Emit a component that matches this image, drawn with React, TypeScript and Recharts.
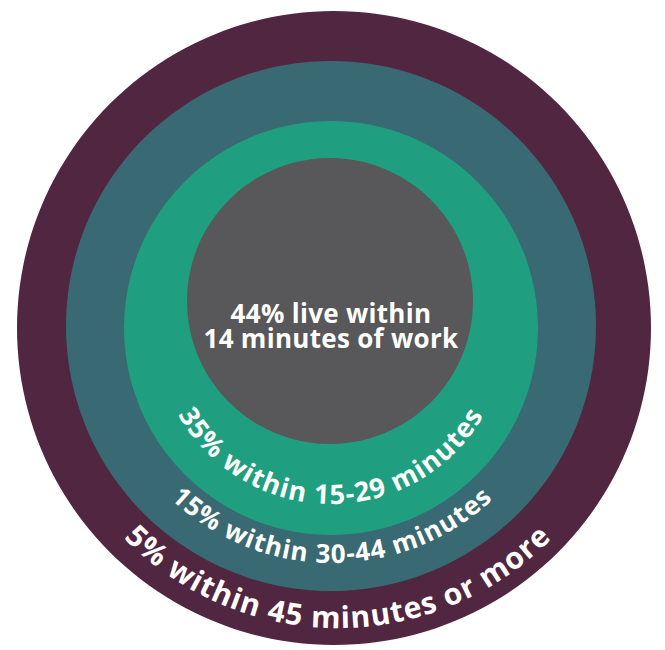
import { PieChart, Pie, Cell } from "recharts";

// share of workers by commute time, innermost band first
const shares = [44, 35, 15, 5];
const bands = ["14 minutes of work", "15-29 minutes", "30-44 minutes", "45 minutes or more"];
const colors = ["#58585a", "#1f9f7f", "#396972", "#512641"];

// circle layout, innermost first
const rings = [
  { cx: 330, cy: 301, r: 143 },
  { cx: 331, cy: 328, r: 207 },
  { cx: 331, cy: 326, r: 265 },
  { cx: 334, cy: 328, r: 317 },
];

// curved label placement for the outer three bands
const arcs = [
  { cx: 331, r: 176, size: 27, spacing: 1.1 },
  { cx: 332, r: 235, size: 26, spacing: 1.0 },
  { cx: 338, r: 300, size: 30, spacing: 1.0 },
];
const ARC_CY = 328;
const FONT = "'Open Sans', 'DejaVu Sans', sans-serif";

function Labels() {
  return (
    <svg
      width={665}
      height={650}
      style={{ position: "absolute", left: 0, top: 0, pointerEvents: "none" }}
    >
      <defs>
        {arcs.map((a, i) => (
          <path
            key={i}
            id={`arc-${i}`}
            d={`M ${a.cx - a.r} ${ARC_CY} A ${a.r} ${a.r} 0 0 0 ${a.cx + a.r} ${ARC_CY}`}
            fill="none"
          />
        ))}
      </defs>
      <text
        x={331}
        textAnchor="middle"
        fill="#fff"
        fontFamily={FONT}
        fontWeight={700}
        fontSize={26}
        letterSpacing={0.3}
      >
        <tspan x={331} y={323}>{`${shares[0]}% live within`}</tspan>
        <tspan x={331} y={348}>{bands[0]}</tspan>
      </text>
      {arcs.map((a, i) => (
        <text
          key={i}
          fill="#fff"
          fontFamily={FONT}
          fontWeight={700}
          fontSize={a.size}
          letterSpacing={a.spacing}
        >
          <textPath href={`#arc-${i}`} startOffset="50%" textAnchor="middle">
            {`${shares[i + 1]}% within ${bands[i + 1]}`}
          </textPath>
        </text>
      ))}
    </svg>
  );
}

export default function App() {
  const order = [3, 2, 1, 0];
  return (
    <div style={{ width: 665, height: 650, position: "relative" }}>
      <style>{"body{margin:0}"}</style>
      <PieChart width={665} height={650} margin={{ top: 0, right: 0, bottom: 0, left: 0 }}>
        {order.map((i) => (
          <Pie
            key={i}
            data={[{ name: bands[i], value: shares[i] }]}
            dataKey="value"
            cx={rings[i].cx}
            cy={rings[i].cy}
            innerRadius={0}
            outerRadius={rings[i].r}
            startAngle={90}
            endAngle={450}
            stroke="none"
            isAnimationActive={false}
          >
            <Cell fill={colors[i]} />
          </Pie>
        ))}
      </PieChart>
      <Labels />
    </div>
  );
}
